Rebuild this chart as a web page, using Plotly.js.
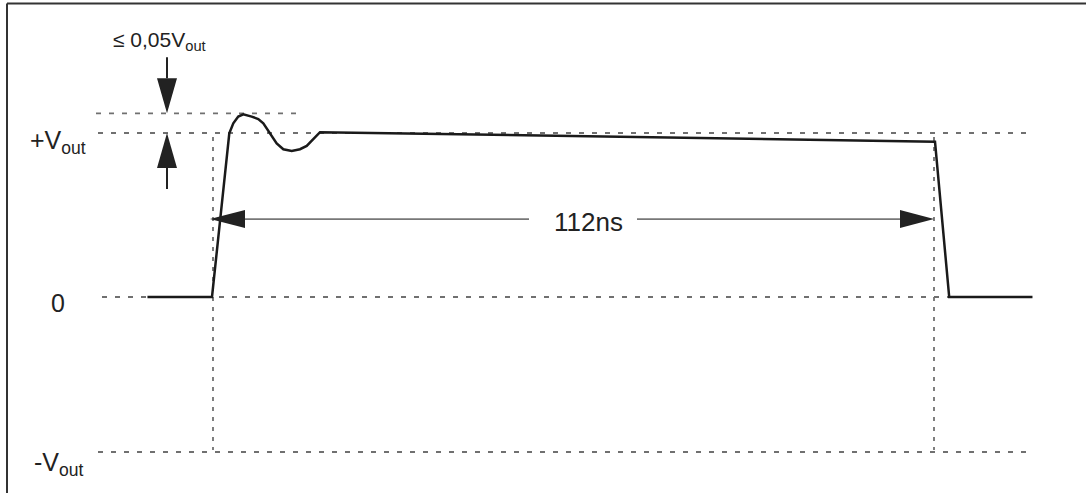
<!DOCTYPE html>
<html>
<head>
<meta charset="utf-8">
<script src="https://cdn.plot.ly/plotly-3.0.1.min.js"></script>
<style>html,body{margin:0;padding:0;background:#fff;}#chart{width:1086px;height:493px;}</style>
</head>
<body>
<div id="chart"></div>
<script>
// ---- data ----
const timeNs  = [-10, 0, 2.68, 3.30, 4.07, 4.85, 6.15, 7.17, 7.95, 8.98, 10.02, 11.05, 12.35, 13.63, 14.67, 15.69, 16.73, 112, 114.2, 127.1];
const voltage = [0, 0, 0.998, 1.059, 1.100, 1.114, 1.100, 1.085, 1.059, 0.998, 0.937, 0.901, 0.891, 0.901, 0.921, 0.962, 1.005, 0.947, 0, 0];
const levelLabels = ['+V<sub>out</sub>', '0', '-V<sub>out</sub>'];
const levelValues = [1, 0, -0.945];
const overshootLevel = 1.12;
const overshootLabel = '\u2264 0,05V<sub>out</sub>';
const pulseStartNs = 0;
const pulseEndNs = 112;
const widthLabel = '112ns';

// ---- layout geometry (pixel scale of the drawing) ----
const W = 1086, H = 493;
const X0PX = 212, PX_PER_NS = 723 / 112;
const Y0PX = 297, PX_PER_V = 164;
const xr = [(0 - X0PX) / PX_PER_NS, (W - X0PX) / PX_PER_NS];
const yr = [(Y0PX - H) / PX_PER_V, Y0PX / PX_PER_V];
const dx = p => p / PX_PER_NS;     // pixels -> ns
const dy = p => p / PX_PER_V;      // pixels -> V
const tAt = p => (p - X0PX) / PX_PER_NS;

const textColor = '#222';
const dashColor = '#707070';
const font = 'Liberation Sans, Arial, sans-serif';

const shapes = [];
// horizontal dashed reference lines
const hLines = [
  {y: overshootLevel, x0: tAt(96),  x1: tAt(298)},
  {y: levelValues[0], x0: tAt(98),  x1: tAt(1032)},
  {y: levelValues[1], x0: tAt(102), x1: tAt(1030)},
  {y: levelValues[2], x0: tAt(98),  x1: tAt(1030)}
];
hLines.forEach(l => shapes.push({type: 'line', layer: 'below', xref: 'x', yref: 'y',
  x0: l.x0, x1: l.x1, y0: l.y, y1: l.y, line: {color: dashColor, width: 1.8, dash: '5px,8px'}}));
// vertical dotted lines at pulse start / end
[pulseStartNs + dx(1), pulseEndNs - dx(1)].forEach(t => shapes.push({type: 'line', layer: 'below', xref: 'x', yref: 'y',
  x0: t, x1: t, y0: levelValues[0] - dy(4), y1: levelValues[2] + dy(2),
  line: {color: dashColor, width: 1.8, dash: '4px,6px'}}));

// 112ns dimension arrow
const arrowY = 0.475;
const headLen = 35, headHalf = 9;
const gapL = tAt(529), gapR = tAt(637);
shapes.push({type: 'line', xref: 'x', yref: 'y', x0: pulseStartNs + dx(headLen - 2), x1: gapL, y0: arrowY, y1: arrowY, line: {color: '#777', width: 1.8}});
shapes.push({type: 'line', xref: 'x', yref: 'y', x0: gapR, x1: pulseEndNs - dx(headLen - 2), y0: arrowY, y1: arrowY, line: {color: '#777', width: 1.8}});
function tri(p) { return 'M' + p.map(q => q[0] + ',' + q[1]).join(' L') + ' Z'; }
shapes.push({type: 'path', xref: 'x', yref: 'y', fillcolor: '#222', line: {width: 0},
  path: tri([[pulseStartNs - dx(2), arrowY], [pulseStartNs + dx(headLen - 2), arrowY + dy(headHalf)], [pulseStartNs + dx(headLen - 2), arrowY - dy(headHalf)]])});
shapes.push({type: 'path', xref: 'x', yref: 'y', fillcolor: '#222', line: {width: 0},
  path: tri([[pulseEndNs - dx(1), arrowY], [pulseEndNs - dx(headLen), arrowY + dy(headHalf)], [pulseEndNs - dx(headLen), arrowY - dy(headHalf)]])});

// overshoot vertical arrows
const vx = tAt(167);
const vHead = 35, vHalf = 10, vStem = 21;
shapes.push({type: 'line', xref: 'x', yref: 'y', x0: vx, x1: vx, y0: overshootLevel + dy(vHead), y1: overshootLevel + dy(vHead + vStem), line: {color: '#222', width: 2}});
shapes.push({type: 'path', xref: 'x', yref: 'y', fillcolor: '#222', line: {width: 0},
  path: tri([[vx, overshootLevel], [vx - dx(vHalf), overshootLevel + dy(vHead)], [vx + dx(vHalf), overshootLevel + dy(vHead)]])});
shapes.push({type: 'line', xref: 'x', yref: 'y', x0: vx, x1: vx, y0: levelValues[0] - dy(vHead), y1: levelValues[0] - dy(vHead + vStem), line: {color: '#222', width: 2}});
shapes.push({type: 'path', xref: 'x', yref: 'y', fillcolor: '#222', line: {width: 0},
  path: tri([[vx, levelValues[0]], [vx - dx(vHalf), levelValues[0] - dy(vHead)], [vx + dx(vHalf), levelValues[0] - dy(vHead)]])});

// frame (top and left edges visible)
shapes.push({type: 'line', xref: 'paper', yref: 'paper', x0: 7 / W, x1: 1, y0: 1 - 3.5 / H, y1: 1 - 3.5 / H, line: {color: '#333', width: 2}});
shapes.push({type: 'line', xref: 'paper', yref: 'paper', x0: 7 / W, x1: 7 / W, y0: 0, y1: 1 - 3.5 / H, line: {color: '#333', width: 2}});

const annotations = [];
const labelShift = [-9, -6, -12];
levelLabels.forEach((txt, i) => annotations.push({xref: 'x', yref: 'y', x: tAt(58), y: levelValues[i], yshift: labelShift[i],
  text: txt, showarrow: false, xanchor: 'center', yanchor: 'middle', font: {family: font, size: 25, color: textColor}}));
annotations.push({xref: 'x', yref: 'y', x: tAt(588), y: arrowY, yshift: -3, text: widthLabel, showarrow: false,
  xanchor: 'center', yanchor: 'middle', font: {family: font, size: 26, color: textColor}});
annotations.push({xref: 'x', yref: 'y', x: tAt(159), y: overshootLevel + dy(72), text: overshootLabel, showarrow: false,
  xanchor: 'center', yanchor: 'middle', font: {family: font, size: 21, color: textColor}});

const trace = {x: timeNs, y: voltage, type: 'scatter', mode: 'lines', line: {color: '#1a1a1a', width: 2.5}, hoverinfo: 'skip'};

Plotly.newPlot('chart', [trace], {
  width: W, height: H, autosize: false,
  margin: {l: 0, r: 0, t: 0, b: 0, pad: 0},
  paper_bgcolor: '#fff', plot_bgcolor: '#fff', showlegend: false,
  xaxis: {range: xr, visible: false, fixedrange: true},
  yaxis: {range: yr, visible: false, fixedrange: true},
  shapes: shapes, annotations: annotations
}, {displayModeBar: false, staticPlot: true});
</script>
</body>
</html>
